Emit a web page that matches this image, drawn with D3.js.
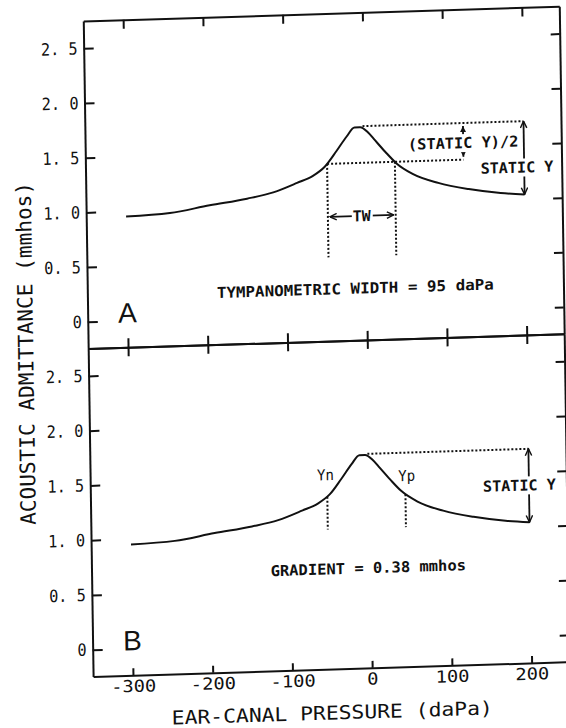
<!DOCTYPE html>
<html>
<head>
<meta charset="utf-8">
<script src="https://cdn.jsdelivr.net/npm/d3@7"></script>
<style>
  body { margin: 0; background: #fff; }
  svg { display: block; }
</style>
</head>
<body>
<script>
// tympanogram (same curve drawn in both panels)
const pressure   = [-300, -245, -195, -148, -115, -85, -65, -50, -35, -22, -12, -5, 5, 12, 26, 40, 60, 92, 130, 170, 200];
const admittance = [0.95, 0.97, 1.03, 1.08, 1.13, 1.21, 1.27, 1.35, 1.49, 1.62, 1.70, 1.70, 1.65, 1.59, 1.47, 1.36, 1.26, 1.17, 1.105, 1.06, 1.04];

const xTicks = [-300, -200, -100, 0, 100, 200];
const xTickLabels = ["-300", "-200", "-100", "0", "100", "200"];
const yTicks = [0, 0.5, 1.0, 1.5, 2.0, 2.5];
const yTickLabels = ["0", "0. 5", "1. 0", "1. 5", "2. 0", "2. 5"];

// annotation values
const peakY = 1.71;          // peak admittance
const tailY = 1.04;          // admittance at +200 daPa
const halfY = 1.375;         // peak - (static Y)/2
const twEdges = [-47, 38];   // tympanometric width limits
const twFoot = 0.52;
const twArrowY = 0.89;
const gradEdges = [-53, 45]; // Yn, Yp pressures
const gradTops = [1.33, 1.33];
const gradFoot = 1.03;

const ink = "#111";
const mono = "'DejaVu Sans Mono', monospace";

const svg = d3.select("body").append("svg")
  .attr("width", 566)
  .attr("height", 728)
  .style("background", "#fff");

const defs = svg.append("defs");
defs.append("marker")
  .attr("id", "open")
  .attr("viewBox", "0 0 10 10")
  .attr("refX", 9.5).attr("refY", 5)
  .attr("markerWidth", 8).attr("markerHeight", 8)
  .attr("markerUnits", "userSpaceOnUse")
  .attr("orient", "auto-start-reverse")
  .append("path")
  .attr("d", "M1,1 L9.5,5 L1,9")
  .attr("fill", "none").attr("stroke", ink).attr("stroke-width", 1.8);
defs.append("marker")
  .attr("id", "solid")
  .attr("viewBox", "0 0 10 10")
  .attr("refX", 10).attr("refY", 5)
  .attr("markerWidth", 6).attr("markerHeight", 6)
  .attr("markerUnits", "userSpaceOnUse")
  .attr("orient", "auto-start-reverse")
  .append("path")
  .attr("d", "M0,0 L10,5 L0,10 Z")
  .attr("fill", ink);

// the scanned figure sits slightly skewed on the page
const g = svg.append("g")
  .attr("transform", "translate(283,364) matrix(1,-0.031,0.015,1,0,0) translate(-283,-364)");

const x = d3.scaleLinear().domain([-350, 247]).range([88.5, 564.5]);

const panels = [
  { id: "A", top: 15, bottom: 342.5 },
  { id: "B", top: 342.5, bottom: 670.5 }
];

function styleAxis(sel) {
  sel.select(".domain").attr("stroke", ink).attr("stroke-width", 2);
  sel.selectAll(".tick line").attr("stroke", ink).attr("stroke-width", 2);
}

function styleLabels(sel, size, cw) {
  sel.selectAll(".tick text")
    .attr("font-family", mono)
    .attr("font-size", size)
    .attr("fill", ink)
    .attr("textLength", function() { return this.textContent.length * cw; })
    .attr("lengthAdjust", "spacingAndGlyphs");
}

function drawFrame(p) {
  const y = p.y;
  p.g.append("g")
    .attr("transform", `translate(${x.range()[0]},0)`)
    .call(d3.axisLeft(y).tickValues(yTicks).tickSizeInner(-10).tickSizeOuter(0)
      .tickPadding(6).tickFormat((d, i) => yTickLabels[i]))
    .call(styleAxis)
    .call(styleLabels, 17, 9.2);

  p.g.append("g")
    .attr("transform", `translate(${x.range()[1]},0)`)
    .call(d3.axisRight(y).tickValues(yTicks).tickSizeInner(-9).tickSizeOuter(0).tickFormat(""))
    .call(styleAxis);

  p.g.append("g")
    .attr("transform", `translate(0,${p.top})`)
    .call(d3.axisTop(x).tickValues(xTicks).tickSizeInner(-9).tickSizeOuter(0).tickFormat(""))
    .call(styleAxis);

  const bottom = p.g.append("g")
    .attr("transform", `translate(0,${p.bottom})`);
  if (p.id === "A") {
    bottom.call(d3.axisBottom(x).tickValues(xTicks).tickSizeInner(-9).tickSizeOuter(0).tickFormat(""))
      .call(styleAxis);
  } else {
    bottom.call(d3.axisBottom(x).tickValues(xTicks).tickSizeInner(-7).tickSizeOuter(0)
        .tickPadding(5).tickFormat((d, i) => xTickLabels[i]))
      .call(styleAxis)
      .call(styleLabels, 16.5, 11.3);
  }
}

function dotted(pg, x1, y1, x2, y2) {
  pg.append("line")
    .attr("x1", x1).attr("y1", y1).attr("x2", x2).attr("y2", y2)
    .attr("stroke", ink).attr("stroke-width", 2)
    .attr("stroke-dasharray", "2 2");
}

function arrow(pg, x1, y1, x2, y2, head) {
  pg.append("line")
    .attr("x1", x1).attr("y1", y1).attr("x2", x2).attr("y2", y2)
    .attr("stroke", ink).attr("stroke-width", 1.8)
    .attr("marker-start", `url(#${head})`)
    .attr("marker-end", `url(#${head})`);
}

function note(pg, str, px, py, o) {
  o = Object.assign({ size: 15, cw: 9.3, weight: "bold", box: false }, o);
  const t = pg.append("text")
    .attr("x", px).attr("y", py)
    .attr("dy", "0.36em")
    .attr("text-anchor", "middle")
    .attr("font-family", mono)
    .attr("font-size", o.size)
    .attr("font-weight", o.weight)
    .attr("fill", ink)
    .attr("textLength", str.length * o.cw)
    .attr("lengthAdjust", "spacingAndGlyphs")
    .text(str);
  if (o.box) {
    const b = t.node().getBBox();
    pg.insert("rect", () => t.node())
      .attr("x", b.x - 1).attr("y", b.y)
      .attr("width", b.width + 2).attr("height", b.height)
      .attr("fill", "#fff");
  }
  return t;
}

const line = d3.line().curve(d3.curveMonotoneX);

panels.forEach(p => {
  p.y = d3.scaleLinear().domain([-0.245, 2.75]).range([p.bottom, p.top]);
  p.g = g.append("g");
  drawFrame(p);

  p.g.append("path")
    .datum(pressure.map((d, i) => [x(d), p.y(admittance[i])]))
    .attr("fill", "none")
    .attr("stroke", ink)
    .attr("stroke-width", 2)
    .attr("d", line);

  p.g.append("text")
    .attr("x", x(-300)).attr("y", p.y(0.075))
    .attr("dy", "0.36em")
    .attr("text-anchor", "middle")
    .attr("font-family", "'Liberation Sans', sans-serif")
    .attr("font-size", 28)
    .attr("fill", ink)
    .text(p.id);

  // peak level carried across to +200 daPa, and the static Y arrow
  dotted(p.g, x(-2), p.y(peakY), x(200), p.y(peakY));
  arrow(p.g, x(200), p.y(peakY), x(200), p.y(tailY), "open");
});

// panel A: tympanometric width
const A = panels[0];
dotted(A.g, x(twEdges[0]), A.y(halfY), x(124), A.y(halfY));
twEdges.forEach(e => dotted(A.g, x(e), A.y(halfY), x(e), A.y(twFoot)));
arrow(A.g, x(twEdges[0]) + 2, A.y(twArrowY), x(twEdges[1]) - 2, A.y(twArrowY), "open");
note(A.g, "TW", x((twEdges[0] + twEdges[1]) / 2), A.y(twArrowY), { cw: 9, box: true });
arrow(A.g, x(124), A.y(peakY) + 3, x(124), A.y(halfY) - 3, "solid");
note(A.g, "(STATIC Y)/2", x(124), A.y(1.53), { cw: 9.2, box: true });
note(A.g, "STATIC Y", x(191), A.y(1.29), { cw: 9.1, box: true });
note(A.g, "TYMPANOMETRIC WIDTH = 95 daPa", x(-14), A.y(0.23), { cw: 9.55 });

// panel B: gradient
const B = panels[1];
gradEdges.forEach((e, i) => dotted(B.g, x(e), B.y(gradTops[i]), x(e), B.y(gradFoot)));
note(B.g, "Yn", x(-55), B.y(1.53), { weight: "normal", cw: 8.5 });
note(B.g, "Yp", x(47), B.y(1.50), { weight: "normal", cw: 8.5 });
note(B.g, "STATIC Y", x(188), B.y(1.38), { cw: 9.1, box: true });
note(B.g, "GRADIENT = 0.38 mmhos", x(-3), B.y(0.67), { cw: 9.3 });

// axis titles
g.append("text")
  .attr("transform", "translate(26,345.5) rotate(-90)")
  .attr("dy", "0.36em")
  .attr("text-anchor", "middle")
  .attr("font-family", mono)
  .attr("font-size", 21)
  .attr("fill", ink)
  .attr("textLength", 343)
  .attr("lengthAdjust", "spacingAndGlyphs")
  .text("ACOUSTIC ADMITTANCE (mmhos)");

g.append("text")
  .attr("x", 327).attr("y", 714)
  .attr("dy", "0.36em")
  .attr("text-anchor", "middle")
  .attr("font-family", mono)
  .attr("font-size", 19)
  .attr("fill", ink)
  .attr("textLength", 321)
  .attr("lengthAdjust", "spacingAndGlyphs")
  .text("EAR-CANAL PRESSURE (daPa)");
</script>
</body>
</html>
